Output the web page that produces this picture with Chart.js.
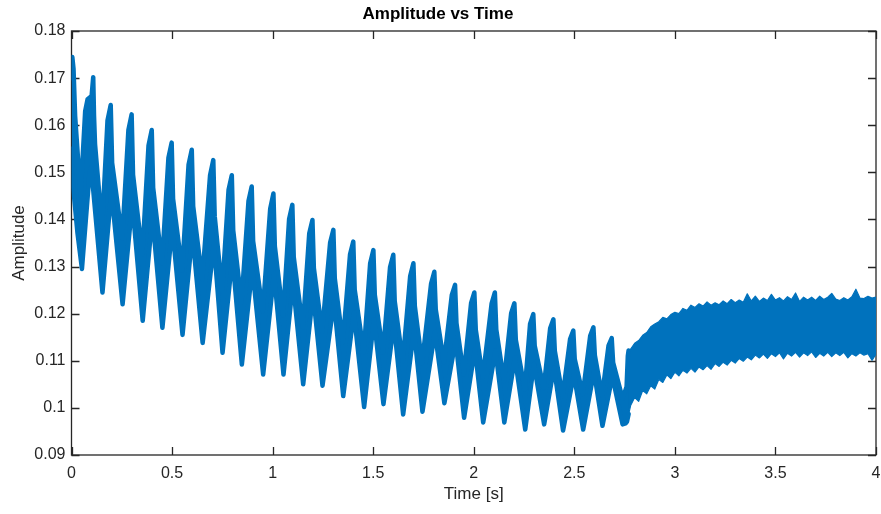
<!DOCTYPE html>
<html><head><meta charset="utf-8">
<script src="https://cdn.jsdelivr.net/npm/chart.js@4.4.1/dist/chart.umd.min.js"></script>
<style>html,body{margin:0;padding:0;background:#fff;}</style>
</head><body>
<canvas id="c" width="881" height="514"></canvas>
<script>
const chartTitle = 'Amplitude vs Time';
const xAxisLabel = 'Time [s]';
const yAxisLabel = 'Amplitude';
const xTickValues = [0, 0.5, 1, 1.5, 2, 2.5, 3, 3.5, 4];
const xTickLabels = ['0', '0.5', '1', '1.5', '2', '2.5', '3', '3.5', '4'];
const yTickValues = [0.09, 0.10, 0.11, 0.12, 0.13, 0.14, 0.15, 0.16, 0.17, 0.18];
const yTickLabels = ['0.09', '0.1', '0.11', '0.12', '0.13', '0.14', '0.15', '0.16', '0.17', '0.18'];

// Oscillating part (0 - 2.77 s): upper and lower edge of the trace
const oscUpperTime = [
  0.000, 0.004, 0.010, 0.018, 0.045, 0.068, 0.080, 0.100, 0.108, 0.112, 0.117,
  0.152, 0.179, 0.195, 0.202,
  0.252, 0.283, 0.299, 0.306,
  0.352, 0.383, 0.399, 0.406,
  0.450, 0.482, 0.498, 0.505,
  0.550, 0.582, 0.598, 0.605,
  0.650, 0.689, 0.705, 0.712,
  0.749, 0.781, 0.797, 0.804,
  0.845, 0.880, 0.896, 0.903,
  0.951, 0.988, 1.004, 1.011,
  1.052, 1.082, 1.098, 1.105,
  1.150, 1.182, 1.198, 1.205,
  1.246, 1.286, 1.302, 1.309,
  1.349, 1.385, 1.401, 1.408,
  1.453, 1.485, 1.501, 1.508,
  1.549, 1.584, 1.600, 1.607,
  1.647, 1.684, 1.700, 1.707,
  1.743, 1.788, 1.804, 1.811,
  1.852, 1.891, 1.907, 1.914,
  1.950, 1.987, 2.003, 2.010,
  2.045, 2.089, 2.105, 2.112,
  2.150, 2.186, 2.202, 2.209,
  2.254, 2.280, 2.296, 2.303,
  2.348, 2.380, 2.396, 2.403,
  2.442, 2.479, 2.495, 2.502,
  2.542, 2.579, 2.595, 2.602,
  2.638, 2.670, 2.686, 2.693,
  2.740, 2.760, 2.766, 2.770
];
const oscUpperAmp = [
  0.170, 0.1745, 0.172, 0.162, 0.145, 0.163, 0.1655, 0.1662, 0.1702, 0.162, 0.156,
  0.1384, 0.1610, 0.1643, 0.152,
  0.1360, 0.1590, 0.1623, 0.1495,
  0.1326, 0.1557, 0.1590, 0.1467,
  0.1307, 0.1531, 0.1563, 0.1444,
  0.1292, 0.1516, 0.1548, 0.1428,
  0.1273, 0.1494, 0.1526, 0.1407,
  0.1248, 0.1463, 0.1494, 0.1377,
  0.1224, 0.1439, 0.1470, 0.1354,
  0.1205, 0.1423, 0.1455, 0.1343,
  0.1196, 0.1401, 0.1431, 0.1320,
  0.1171, 0.1370, 0.1399, 0.1297,
  0.1162, 0.1351, 0.1378, 0.1275,
  0.1139, 0.1326, 0.1353, 0.1251,
  0.1118, 0.1307, 0.1335, 0.1240,
  0.1118, 0.1299, 0.1325, 0.1227,
  0.1098, 0.1280, 0.1307, 0.1216,
  0.1095, 0.1264, 0.1289, 0.1209,
  0.1097, 0.1240, 0.1261, 0.1180,
  0.1071, 0.1223, 0.1245, 0.1166,
  0.1065, 0.1222, 0.1245, 0.1166,
  0.1057, 0.1201, 0.1222, 0.1145,
  0.1039, 0.1178, 0.1199, 0.1132,
  0.1042, 0.1169, 0.1188, 0.1121,
  0.1025, 0.1146, 0.1164, 0.1104,
  0.1029, 0.1153, 0.1171, 0.1112,
  0.1026, 0.1132, 0.1148, 0.1096,
  0.1020, 0.1045, 0.1110, 0.1122
];
const oscLowerTime = [
  0.000, 0.008, 0.030, 0.052, 0.090, 0.098,
  0.154, 0.198, 0.254, 0.302, 0.354, 0.402, 0.452, 0.501, 0.552, 0.601,
  0.652, 0.708, 0.751, 0.800, 0.847, 0.899, 0.953, 1.007, 1.054, 1.101,
  1.152, 1.201, 1.248, 1.305, 1.351, 1.404, 1.455, 1.504, 1.551, 1.603,
  1.649, 1.703, 1.745, 1.807, 1.854, 1.910, 1.952, 2.006, 2.047, 2.108,
  2.152, 2.205, 2.256, 2.299, 2.350, 2.399, 2.444, 2.498, 2.544, 2.598,
  2.640, 2.689, 2.740, 2.755, 2.762, 2.770
];
const oscLowerAmp = [
  0.155, 0.147, 0.137, 0.1295, 0.150, 0.151,
  0.1245, 0.1460, 0.1220, 0.1435, 0.1185, 0.1406, 0.1170, 0.1384, 0.1155, 0.1369,
  0.1138, 0.1348, 0.1117, 0.1320, 0.1092, 0.1297, 0.1071, 0.1284, 0.1071, 0.1266,
  0.1050, 0.1243, 0.1047, 0.1226, 0.1025, 0.1202, 0.1002, 0.1188, 0.1008, 0.1179,
  0.0986, 0.1165, 0.0992, 0.1161, 0.1010, 0.1143, 0.0979, 0.1125, 0.0969, 0.1122,
  0.0969, 0.1106, 0.0954, 0.1093, 0.0965, 0.1086, 0.0952, 0.1071, 0.0954, 0.1077,
  0.0962, 0.1067, 0.0965, 0.0967, 0.0971, 0.0987
];

// Dense noisy part (2.76 - 4 s): upper and lower edge of the band
const bandTime = [
  2.764, 2.78, 2.80, 2.82, 2.84, 2.86, 2.88, 2.90, 2.92, 2.94, 2.96, 2.98,
  3.00, 3.02, 3.04, 3.06, 3.08, 3.10, 3.12, 3.14, 3.16, 3.18, 3.20, 3.22, 3.24, 3.26, 3.28,
  3.30, 3.32, 3.34, 3.36, 3.38, 3.40, 3.42, 3.44, 3.46, 3.48, 3.50, 3.52, 3.54, 3.56, 3.58,
  3.60, 3.62, 3.64, 3.66, 3.68, 3.70, 3.72, 3.74, 3.76, 3.78, 3.80, 3.82, 3.84, 3.86, 3.88,
  3.90, 3.92, 3.94, 3.96, 3.98, 4.00
];
const bandUpper = [
  0.1110, 0.1125, 0.1137, 0.1143, 0.1154, 0.1160, 0.1172, 0.1178, 0.1183, 0.1192, 0.1189, 0.1198,
  0.1203, 0.1200, 0.1211, 0.1207, 0.1218, 0.1213, 0.1221, 0.1216, 0.1225, 0.1218, 0.1223, 0.1219, 0.1227, 0.1221, 0.1230,
  0.1223, 0.1229, 0.1224, 0.1242, 0.1227, 0.1237, 0.1226, 0.1233, 0.1228, 0.1241, 0.1229, 0.1234, 0.1227, 0.1236, 0.1230,
  0.1244, 0.1226, 0.1235, 0.1229, 0.1235, 0.1228, 0.1237, 0.1230, 0.1235, 0.1243, 0.1231, 0.1228, 0.1234, 0.1229, 0.1236,
  0.1252, 0.1233, 0.1232, 0.1237, 0.1233, 0.1235
];
const bandLower = [
  0.0975, 0.1005, 0.1022, 0.1014, 0.1037, 0.1030, 0.1047, 0.1040, 0.1060, 0.1054, 0.1070, 0.1062,
  0.1076, 0.1068, 0.1080, 0.1074, 0.1084, 0.1076, 0.1087, 0.1081, 0.1090, 0.1082, 0.1094, 0.1088, 0.1097, 0.1091, 0.1101,
  0.1095, 0.1105, 0.1099, 0.1108, 0.1102, 0.1112, 0.1106, 0.1114, 0.1105, 0.1115, 0.1109, 0.1117, 0.1104, 0.1116, 0.1110,
  0.1118, 0.1108, 0.1117, 0.1111, 0.1119, 0.1107, 0.1116, 0.1110, 0.1118, 0.1109, 0.1117, 0.1111, 0.1118, 0.1106, 0.1115,
  0.1110, 0.1117, 0.1112, 0.1115, 0.1101, 0.1114
];

const BLUE = '#0072BD';
const AXIS = '#262626';
const FONT = "'Liberation Sans', Arial, Helvetica, sans-serif";

const toXY = (xs, ys) => xs.map((x, i) => ({ x: x, y: ys[i] }));
const edge = (label, xs, ys, width, fill) => ({
  label: label, data: toXY(xs, ys),
  borderColor: BLUE, backgroundColor: BLUE, borderWidth: width,
  pointRadius: 0, tension: 0, clip: 0, fill: fill,
  borderJoinStyle: 'round', borderCapStyle: 'round'
});

const boxPlugin = {
  id: 'matlabBox',
  beforeDatasetsDraw(chart) {
    const { ctx, chartArea: a, scales } = chart;
    ctx.save();
    ctx.strokeStyle = AXIS;
    ctx.lineWidth = 1.3;
    ctx.strokeRect(a.left, a.top, a.right - a.left, a.bottom - a.top);
    const tl = 8;
    ctx.beginPath();
    xTickValues.forEach(v => {
      const px = Math.round(scales.x.getPixelForValue(v)) + 0.5;
      ctx.moveTo(px, a.bottom); ctx.lineTo(px, a.bottom - tl);
      ctx.moveTo(px, a.top); ctx.lineTo(px, a.top + tl);
    });
    yTickValues.forEach(v => {
      const py = Math.round(scales.y.getPixelForValue(v)) + 0.5;
      ctx.moveTo(a.left, py); ctx.lineTo(a.left + tl, py);
      ctx.moveTo(a.right, py); ctx.lineTo(a.right - tl, py);
    });
    ctx.stroke();
    ctx.restore();
  }
};

new Chart(document.getElementById('c'), {
  type: 'line',
  data: {
    datasets: [
      edge('osc lower', oscLowerTime, oscLowerAmp, 4.5, false),
      edge('Amplitude', oscUpperTime, oscUpperAmp, 4.5, '-1'),
      edge('band lower', bandTime, bandLower, 1.2, false),
      edge('band upper', bandTime, bandUpper, 1.2, '-1')
    ]
  },
  options: {
    responsive: false,
    devicePixelRatio: 1,
    animation: false,
    layout: { padding: { left: 0, right: 5, top: 0, bottom: 0 } },
    plugins: {
      legend: { display: false },
      tooltip: { enabled: false },
      title: {
        display: true, text: chartTitle, color: '#000',
        font: { family: FONT, size: 17, weight: 'bold' },
        padding: { top: 4, bottom: 6.6 }
      }
    },
    scales: {
      x: {
        type: 'linear', min: 0, max: 4,
        afterBuildTicks: s => { s.ticks = xTickValues.map(v => ({ value: v })); },
        afterFit: s => { s.height = 59; s.paddingLeft = 0; s.paddingRight = 0; },
        grid: { display: false, drawTicks: false },
        border: { display: false },
        ticks: {
          color: AXIS, padding: 9, maxRotation: 0, autoSkip: false,
          font: { family: FONT, size: 16 },
          callback: (v, i) => xTickLabels[i]
        },
        title: {
          display: true, text: xAxisLabel, color: AXIS,
          font: { family: FONT, size: 17 }, padding: { top: 0, bottom: 9.8 }
        }
      },
      y: {
        type: 'linear', min: 0.09, max: 0.18,
        afterBuildTicks: s => { s.ticks = yTickValues.map(v => ({ value: v })); },
        afterFit: s => { s.width = 71.5; s.paddingTop = 0; s.paddingBottom = 0; },
        grid: { display: false, drawTicks: false },
        border: { display: false },
        ticks: {
          color: AXIS, padding: 6, autoSkip: false,
          font: { family: FONT, size: 16 },
          callback: (v, i) => yTickLabels[i]
        },
        title: {
          display: true, text: yAxisLabel, color: AXIS,
          font: { family: FONT, size: 17 }, padding: { top: 9, bottom: 0 }
        }
      }
    }
  },
  plugins: [boxPlugin]
});
</script>
</body></html>
